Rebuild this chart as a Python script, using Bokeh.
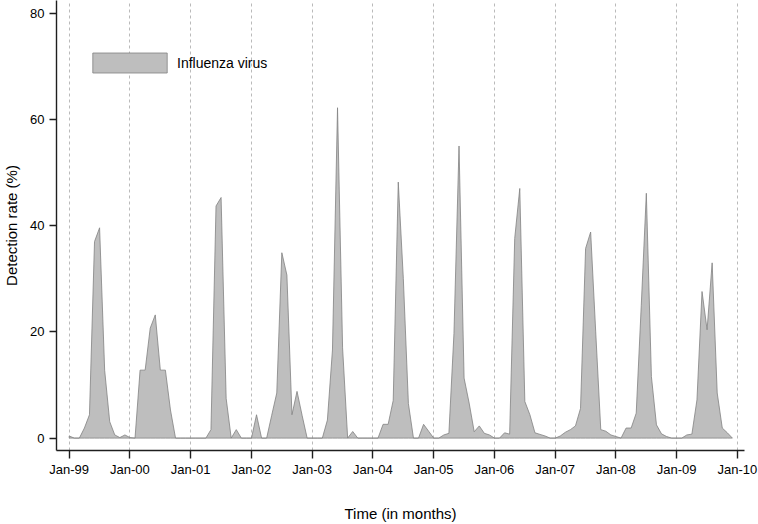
import numpy as np
from bokeh.plotting import figure
from bokeh.models import FixedTicker, Legend, LegendItem, Range1d
from bokeh.embed import file_html
from bokeh.resources import INLINE

# Monthly influenza detection rate (%), Jan..Dec of each year
rate_1999 = [0.4, 0, 0, 1.9, 4.4, 37.0, 39.6, 12.8, 3.1, 0.6, 0.1, 0.6]
rate_2000 = [0.1, 0, 12.8, 12.8, 20.7, 23.2, 12.8, 12.8, 5.3, 0, 0, 0]
rate_2001 = [0, 0, 0, 0, 1.6, 43.7, 45.3, 7.5, 0, 1.6, 0, 0]
rate_2002 = [0, 4.4, 0, 0, 4.3, 8.5, 34.9, 30.7, 4.4, 8.8, 4.3, 0]
rate_2003 = [0, 0, 0, 3.4, 16.6, 62.2, 17.0, 0, 1.25, 0, 0, 0]
rate_2004 = [0, 0, 2.6, 2.6, 7.1, 48.2, 30.0, 6.5, 0, 0, 2.6, 1.3]
rate_2005 = [0, 0, 0.6, 0.9, 19.7, 55.0, 11.3, 6.6, 1.2, 2.3, 0.9, 0.6]
rate_2006 = [0, 0, 1.0, 0.75, 37.6, 47.0, 6.9, 4.4, 1.0, 0.7, 0.4, 0]
rate_2007 = [0, 0.4, 1.1, 1.6, 2.3, 5.6, 35.7, 38.8, 20.0, 1.6, 1.3, 0.6]
rate_2008 = [0.3, 0, 1.9, 1.9, 4.7, 25.0, 46.1, 11.6, 2.5, 0.8, 0.3, 0]
rate_2009 = [0, 0, 0.6, 0.75, 7.2, 27.6, 20.4, 33.0, 8.5, 1.9, 1.0, 0]

tick_labels = ["Jan-99", "Jan-00", "Jan-01", "Jan-02", "Jan-03", "Jan-04",
               "Jan-05", "Jan-06", "Jan-07", "Jan-08", "Jan-09", "Jan-10"]
y_ticks = [0, 20, 40, 60, 80]

values = np.concatenate([rate_1999, rate_2000, rate_2001, rate_2002, rate_2003,
                         rate_2004, rate_2005, rate_2006, rate_2007, rate_2008,
                         rate_2009]).astype(float)
months = np.arange(len(values))
tick_months = [12 * i for i in range(len(tick_labels))]

FONT = "Liberation Sans"

p = figure(width=758, height=524, output_backend="svg", toolbar_location=None,
           x_range=Range1d(-2.51, 133.39), y_range=Range1d(-2.33, 82.39),
           min_border_left=56, min_border_right=14, min_border_top=0,
           min_border_bottom=73)
p.outline_line_color = None
p.background_fill_color = "white"
p.border_fill_color = "white"

xs = np.concatenate([months, months[::-1]])
ys = np.concatenate([values, np.zeros_like(values)])
r = p.patch(xs, ys, fill_color="#bebebe", line_color="#828282", line_width=0.8)

# axes
for ax in (p.xaxis, p.yaxis):
    ax.axis_line_color = "#1e1e1e"
    ax.axis_line_width = 1.4
    ax.major_tick_line_color = "#1e1e1e"
    ax.major_tick_line_width = 1.4
    ax.major_tick_in = 0
    ax.minor_tick_line_color = None
    ax.major_label_text_font = FONT
    ax.major_label_text_font_size = "13px"
    ax.major_label_text_color = "black"
    ax.axis_label_text_font = FONT
    ax.axis_label_text_font_size = "15px"
    ax.axis_label_text_font_style = "normal"
    ax.axis_label_text_color = "black"

p.xaxis.ticker = FixedTicker(ticks=tick_months)
p.xaxis.major_label_overrides = {m: lab for m, lab in zip(tick_months, tick_labels)}
p.xaxis.major_tick_out = 8
p.xaxis.major_label_standoff = 3
p.xaxis.axis_label = "Time (in months)"
p.xaxis.axis_label_standoff = 25

p.yaxis.ticker = FixedTicker(ticks=y_ticks)
p.yaxis.major_tick_out = 7
p.yaxis.major_label_standoff = 5
p.yaxis.axis_label = "Detection rate (%)"
p.yaxis.axis_label_standoff = 7

p.xgrid.ticker = FixedTicker(ticks=tick_months)
p.xgrid.grid_line_color = "#a8a8a8"
p.xgrid.grid_line_dash = "3 3"
p.xgrid.grid_line_width = 0.8
p.ygrid.grid_line_color = None

legend = Legend(items=[LegendItem(label="Influenza virus", renderers=[r])],
                location=(27, 375), padding=0, margin=0, spacing=0,
                glyph_width=93, glyph_height=25, label_standoff=1,
                border_line_color=None, background_fill_alpha=0,
                label_text_font=FONT, label_text_font_size="14px",
                label_text_color="black")
p.add_layout(legend)

open("out.html", "w").write(file_html(p, INLINE))
